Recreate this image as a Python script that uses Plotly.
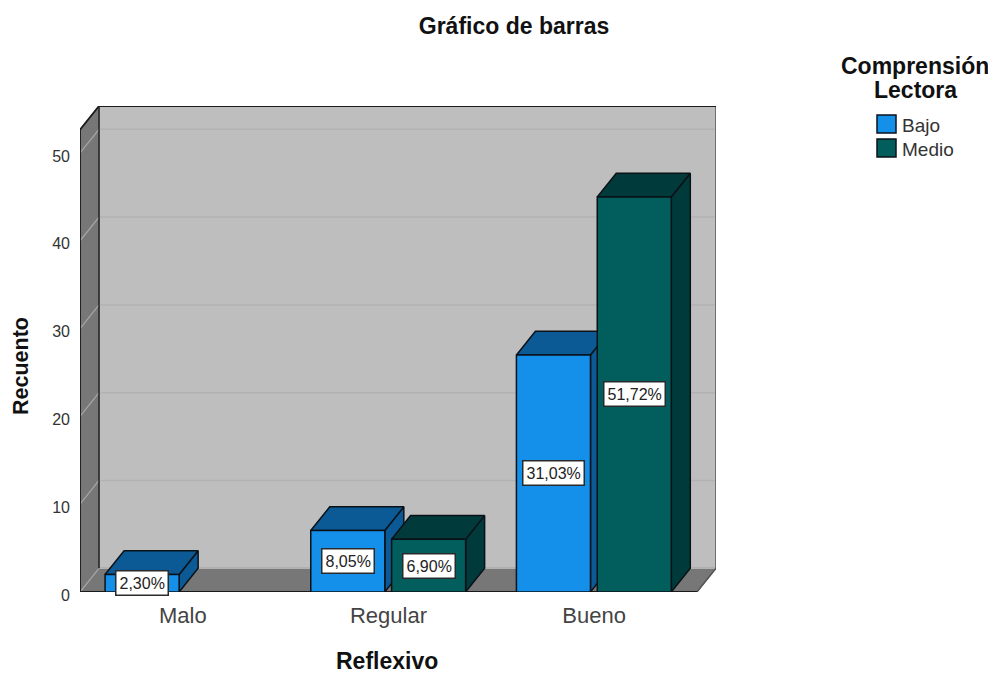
import plotly.graph_objects as go

# ---- data ----
categories = ["Malo", "Regular", "Bueno"]
series_names = ["Bajo", "Medio"]
bajo_values = [2, 7, 27]
medio_values = [None, 6, 45]
bajo_labels = ["2,30%", "8,05%", "31,03%"]
medio_labels = [None, "6,90%", "51,72%"]
y_ticks = [0, 10, 20, 30, 40, 50]

# ---- styling / geometry ----
PAD = 8                        # the page's own margin
W, H = 996 - PAD, 673 - PAD
L, T = 80 - PAD, 106 - PAD
PW, PH = 636, 486
R, B = W - L - PW, H - T - PH
DX, DY = 19 / 205.67, 2.7      # pseudo-3D depth in axis units
Y_FRONT_TOP = 52.65
BAR_W, BAR_OFF = 0.36, [-0.378, 0.015]
FRONT = ["#1490EB", "#025D5D"]
SHADE = ["#0B5A96", "#013A3A"]
EDGE = "#0A1218"
WALL_BACK, WALL_DARK, GRID, GRID_SIDE = "#BEBEBE", "#777777", "#B2B2B2", "#A8A8A8"
X0, X1 = -0.5, 2.5
FONT = "Liberation Sans"

fig = go.Figure()


def poly(xs, ys, fill, line, width=1.5, z=0):
    fig.add_trace(go.Scatter(
        x=xs, y=ys, mode="lines", fill="toself" if fill else None,
        fillcolor=fill, line=dict(color=line, width=width),
        hoverinfo="skip", showlegend=False, cliponaxis=False, zorder=z))


# walls and floor
poly([X0 + DX, X1 + DX, X1 + DX, X0 + DX, X0 + DX], [DY, DY, Y_FRONT_TOP + DY, Y_FRONT_TOP + DY, DY],
     WALL_BACK, WALL_BACK, 1)
poly([X0, X1, X1 + DX, X0 + DX, X0], [0, 0, DY, DY, 0], WALL_DARK, WALL_DARK, 1)
poly([X0, X0 + DX, X0 + DX, X0, X0], [0, DY, Y_FRONT_TOP + DY, Y_FRONT_TOP, 0], WALL_DARK, WALL_DARK, 1)
for v in y_ticks:
    poly([X0, X0 + DX], [v, v + DY], None, GRID_SIDE, 1.2)
    poly([X0 + DX, X1 + DX], [v + DY, v + DY], None, GRID, 1.5)
poly([X1, X1 + DX, X1 + DX], [0, DY, Y_FRONT_TOP + DY], None, "#555555", 1.5)
poly([X0, X0, X0 + DX, X1 + DX], [0, Y_FRONT_TOP, Y_FRONT_TOP + DY, Y_FRONT_TOP + DY], None, "#1A1A1A", 1.8)
poly([X0 + DX, X0 + DX], [Y_FRONT_TOP + DY, DY], None, "#222222", 1.5)
poly([X0, X1], [0, 0], None, "#1A1A1A", 1.8)

# bars: shaded side/top faces derive from the values, front faces are real bars
for s, (name, vals) in enumerate(zip(series_names, [bajo_values, medio_values])):
    for i, v in enumerate(vals):
        if v is None:
            continue
        x0 = i + BAR_OFF[s]
        x1 = x0 + BAR_W
        poly([x1, x1 + DX, x1 + DX, x1, x1], [0, DY, v + DY, v, 0], SHADE[s], EDGE, 1.5, 2 * s + 1)
        poly([x0, x0 + DX, x1 + DX, x1, x0], [v, v + DY, v + DY, v, v], SHADE[s], EDGE, 1.5, 2 * s + 1)
    fig.add_trace(go.Bar(
        x=list(range(len(categories))), y=vals, width=BAR_W, offset=BAR_OFF[s], name=name,
        marker=dict(color=FRONT[s], line=dict(color=EDGE, width=1.5)),
        showlegend=False, cliponaxis=False, zorder=2 * s + 2))

# value labels
for s, (vals, labels) in enumerate(zip([bajo_values, medio_values], [bajo_labels, medio_labels])):
    for i, (v, t) in enumerate(zip(vals, labels)):
        if v is None:
            continue
        fig.add_annotation(x=i + BAR_OFF[s] + BAR_W / 2, y=v / 2, text=t, showarrow=False,
                           font=dict(family=FONT, size=16, color="#222222"),
                           bgcolor="white", bordercolor="#2A2A2A", borderwidth=1.5, borderpad=3)


def px(x):
    return (x - PAD - L) / PW


def py(y):
    return (H - B - (y - PAD)) / PH


def label(x, y, text, size, bold=True, rot=0, color="#111111", height=None):
    fig.add_annotation(xref="paper", yref="paper", x=px(x), y=py(y),
                       text=f"<b>{text}</b>" if bold else text, showarrow=False, textangle=rot,
                       xanchor="center", yanchor="middle", height=height,
                       font=dict(family=FONT, size=size, color=color))


label(387, 661, "Reflexivo", 23, height=20)
label(21, 366, "Recuento", 21.5, rot=-90)
label(915, 66, "Comprensión", 23)
label(915, 90, "Lectora", 23)

# legend key
for s, (name, y0) in enumerate(zip(series_names, [115, 139])):
    fig.add_shape(type="rect", xref="paper", yref="paper",
                  x0=px(877), x1=px(896), y0=py(y0), y1=py(y0 + 18),
                  fillcolor=FRONT[s], line=dict(color=EDGE, width=1.5))
    fig.add_annotation(xref="paper", yref="paper", x=px(900), y=py(y0 + 10), text=name, showarrow=False,
                       xanchor="left", yanchor="middle",
                       font=dict(family=FONT, size=19, color="#333333"))

fig.update_layout(
    width=W, height=H, autosize=False,
    margin=dict(l=L, r=R, t=T, b=B),
    paper_bgcolor="white", plot_bgcolor="white",
    barmode="overlay", showlegend=False,
    title=dict(text="<b>Gráfico de barras</b>", x=(514 - PAD) / W, y=1 - (26 - PAD) / H,
               xanchor="center", yanchor="middle",
               font=dict(family=FONT, size=23, color="#111111")),
    xaxis=dict(range=[X0, X1 + DX], tickvals=list(range(len(categories))), ticktext=categories,
               showgrid=False, zeroline=False, showline=False, ticks="", ticklabelstandoff=8,
               tickfont=dict(family=FONT, size=22, color="#444444")),
    yaxis=dict(range=[0, Y_FRONT_TOP + DY], tickvals=y_ticks, showgrid=False, zeroline=False, showline=False,
               ticks="", ticklabelstandoff=9, ticklabelshift=3,
               tickfont=dict(family=FONT, size=16, color="#333333")),
)
fig.write_html("out.html")
